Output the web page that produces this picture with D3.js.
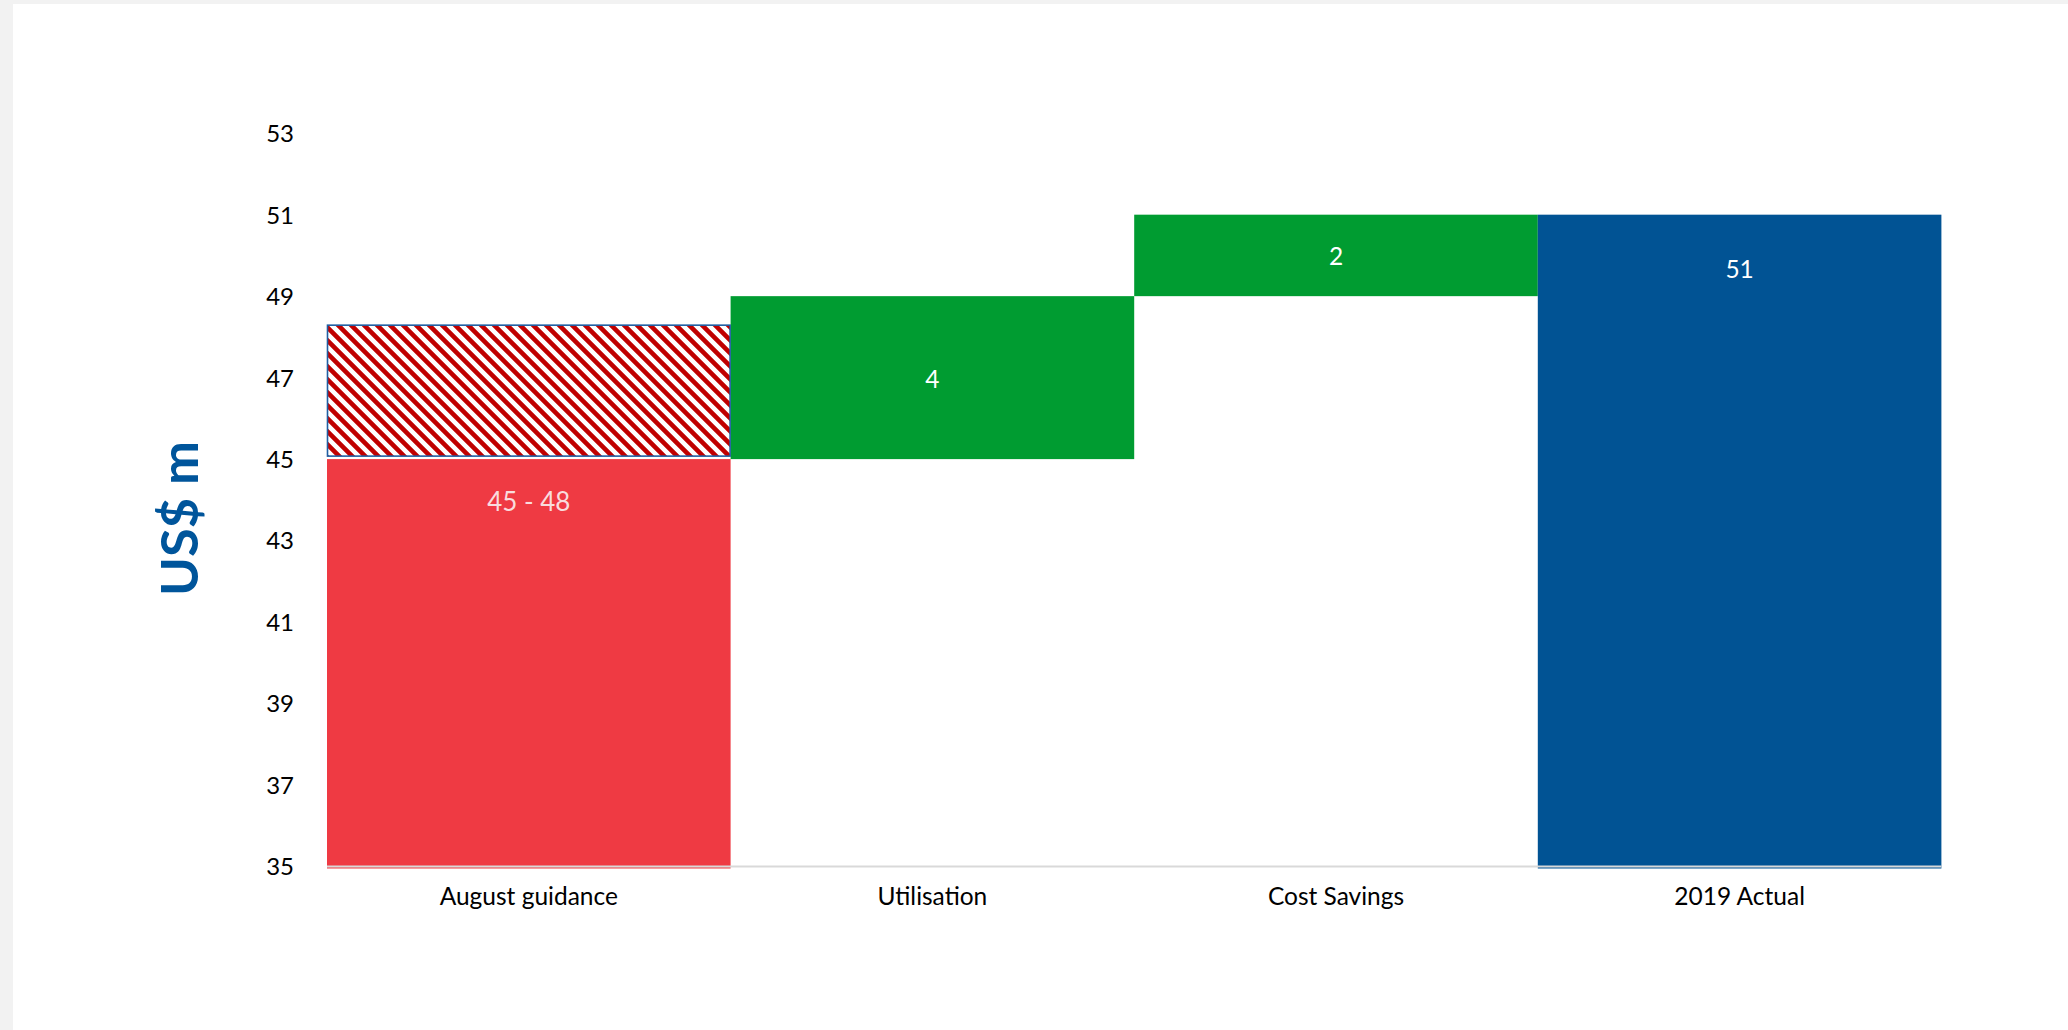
<!DOCTYPE html>
<html>
<head>
<meta charset="utf-8">
<script src="https://cdn.jsdelivr.net/npm/d3@7"></script>
<style>
  html, body { margin: 0; padding: 0; background: #f2f2f2; }
  svg { display: block; }
</style>
</head>
<body>
<svg id="chart" width="2068" height="1030"></svg>
<script>
// Waterfall: August guidance range -> drivers -> 2019 actual (US$ m)
const categories = ["August guidance", "Utilisation", "Cost Savings", "2019 Actual"];
const guidanceLow = 45;
const guidanceHigh = 48.3;
const steps = [4, 2];            // Utilisation, Cost Savings
const actual = 51;
const yTicks = [35, 37, 39, 41, 43, 45, 47, 49, 51, 53];

const W = 2068, H = 1030;
const svg = d3.select("#chart");

// page panel
svg.append("rect").attr("x", 13).attr("y", 4).attr("width", W - 13).attr("height", H - 4).attr("fill", "#ffffff");

const x = d3.scaleBand().domain(categories).range([327, 1941.4]).padding(0);
const y = d3.scaleLinear().domain([35, 53]).range([866.5, 133.2]);

// diagonal red hatch for the guidance range
const P = 13;
const defs = svg.append("defs");
const pat = defs.append("pattern")
  .attr("id", "hatch").attr("patternUnits", "userSpaceOnUse")
  .attr("width", P).attr("height", P);
pat.append("rect").attr("width", P).attr("height", P).attr("fill", "#ffffff");
pat.append("path")
  .attr("d", `M-3,-3 L${P + 3},${P + 3} M-3,${P - 3} L3,${P + 3} M${P - 3},-3 L${P + 3},3`)
  .attr("stroke", "#c00000").attr("stroke-width", 4.6);

const font = "Lato, 'Open Sans', sans-serif";
const bw = x.bandwidth();
const extra = 2; // bars run just past the baseline

// build waterfall segments
let running = guidanceLow;
const segs = [];
segs.push({ cat: categories[0], from: y.domain()[0], to: guidanceLow, color: "#ef3a43" });
steps.forEach((s, i) => {
  segs.push({ cat: categories[i + 1], from: running, to: running + s, color: "#009c31", value: s });
  running += s;
});
segs.push({ cat: categories[3], from: y.domain()[0], to: actual, color: "#015394", value: actual });

svg.append("g").selectAll("rect").data(segs).join("rect")
  .attr("x", d => x(d.cat))
  .attr("y", d => y(d.to))
  .attr("width", bw)
  .attr("height", d => y(d.from) - y(d.to) + (d.from === y.domain()[0] ? extra : 0))
  .attr("fill", d => d.color);

// guidance range (hatched)
svg.append("rect")
  .attr("x", x(categories[0]) + 0.5)
  .attr("y", y(guidanceHigh) + 0.5)
  .attr("width", bw - 1)
  .attr("height", y(guidanceLow) - y(guidanceHigh) - 3.5)
  .attr("fill", "url(#hatch)")
  .attr("stroke", "#1f5fa3").attr("stroke-width", 1.6);

// baseline
svg.append("line")
  .attr("x1", x.range()[0]).attr("x2", x.range()[1])
  .attr("y1", y(35)).attr("y2", y(35))
  .attr("stroke", "#d9d9d9").attr("stroke-width", 2);

// y axis (labels only)
const yAxis = d3.axisLeft(y).tickValues(yTicks).tickSize(0).tickPadding(0);
const gy = svg.append("g").attr("transform", "translate(294,0)").call(yAxis);
gy.select(".domain").remove();
gy.selectAll("text")
  .attr("font-family", font).attr("font-size", 24).attr("fill", "#000")
  .attr("dy", "0.35em");

// x axis (labels only)
const xAxis = d3.axisBottom(x).tickSize(0).tickPadding(0);
const gx = svg.append("g").attr("transform", "translate(0,905)").call(xAxis);
gx.select(".domain").remove();
gx.selectAll("text")
  .attr("font-family", font).attr("font-size", 24.5).attr("fill", "#000")
  .attr("dy", 0);

// value labels
const fmt = d3.format(".0f");
svg.append("text")
  .attr("x", x(categories[0]) + bw / 2).attr("y", y(guidanceLow) + 43)
  .attr("dy", "0.35em").attr("text-anchor", "middle")
  .attr("font-family", font).attr("font-weight", 400).attr("font-size", 26)
  .attr("fill", "#f9dcdd")
  .text(`${fmt(guidanceLow)} - ${fmt(guidanceHigh)}`);

svg.append("g").selectAll("text").data(segs.filter(d => d.value !== undefined)).join("text")
  .attr("x", d => x(d.cat) + bw / 2)
  .attr("y", (d, i) => i < steps.length ? (y(d.from) + y(d.to)) / 2 + 1.5 : y(d.to) + 55)
  .attr("dy", "0.35em").attr("text-anchor", "middle")
  .attr("font-family", font).attr("font-size", 24.5).attr("fill", "#ffffff")
  .text(d => fmt(d.value));

// axis title
svg.append("text")
  .attr("transform", "translate(198,518.5) rotate(-90)")
  .attr("text-anchor", "middle")
  .attr("font-family", font).attr("font-weight", 700).attr("font-size", 52.5)
  .attr("fill", "#00559b")
  .text("US$ m");
</script>
</body>
</html>
